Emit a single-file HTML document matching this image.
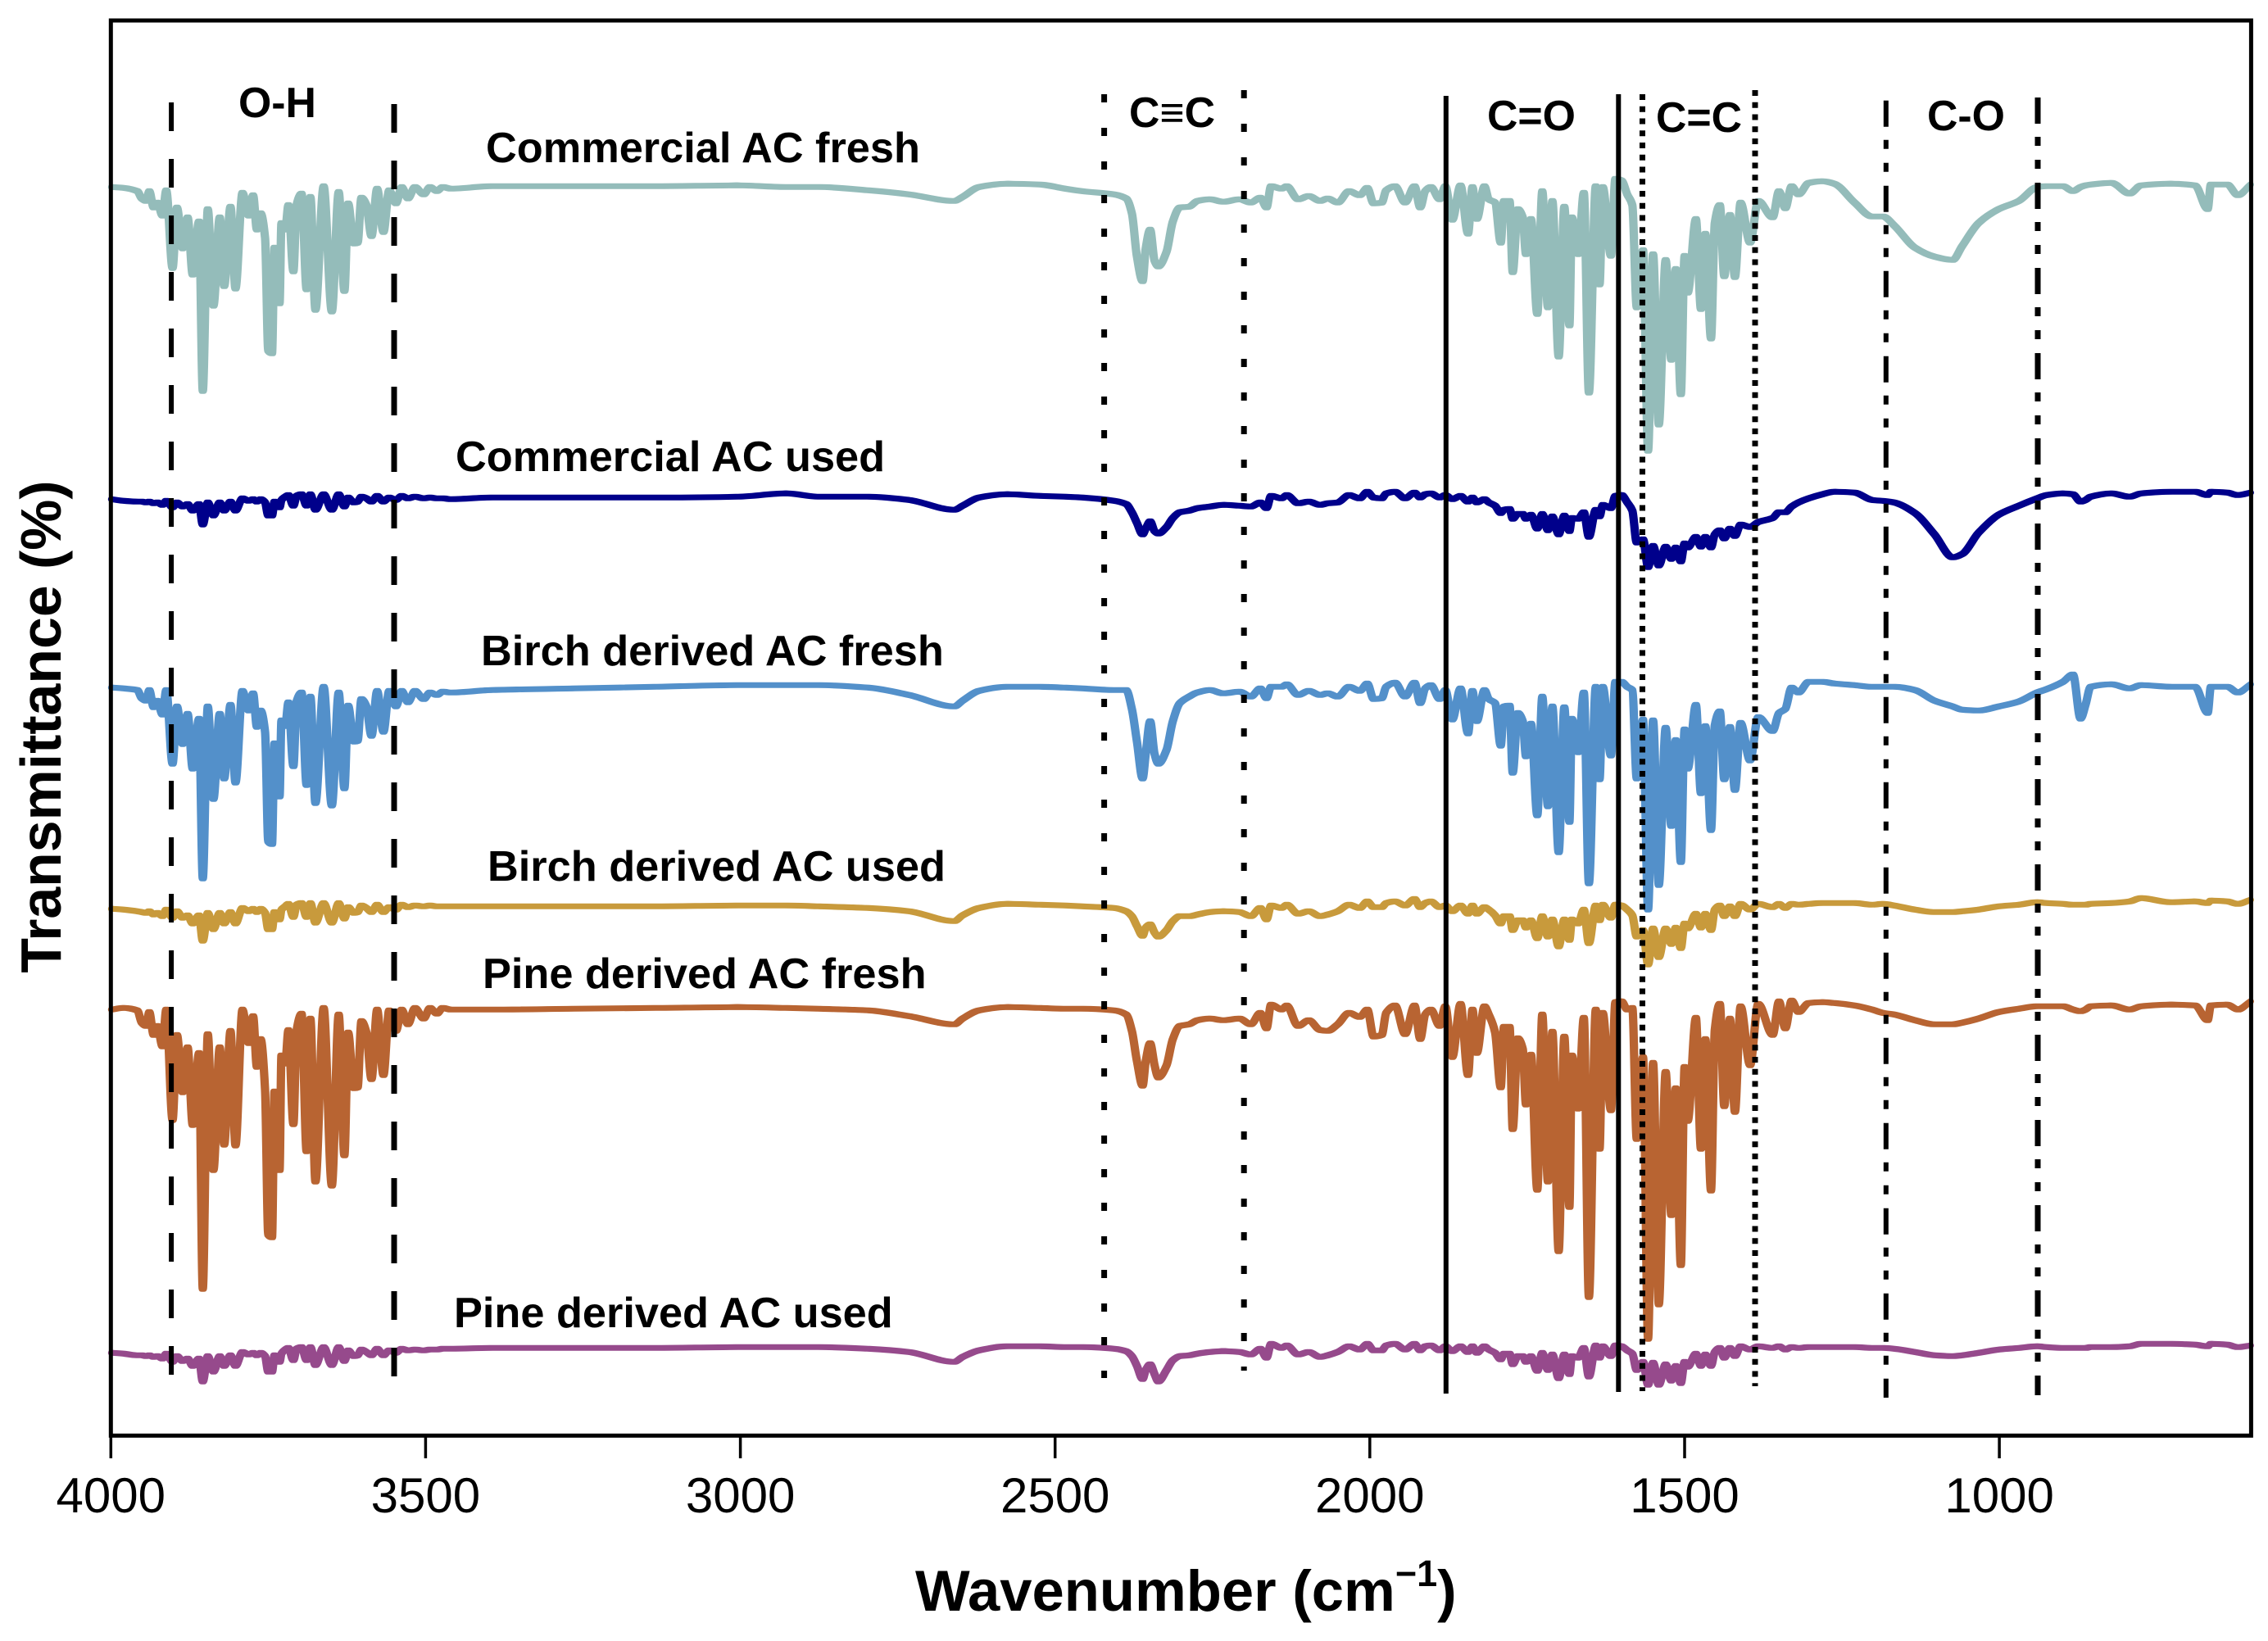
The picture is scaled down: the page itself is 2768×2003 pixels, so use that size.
<!DOCTYPE html>
<html lang="en">
<head>
<meta charset="utf-8">
<title>FTIR spectra of fresh and used activated carbons</title>
<style>
html,body{margin:0;padding:0;background:#fff;}
svg{display:block;font-family:"Liberation Sans",Arial,sans-serif;}
</style>
</head>
<body>
<svg id="chart" xmlns="http://www.w3.org/2000/svg" width="2768" height="2003" viewBox="0 0 2768 2003">
  <rect x="0" y="0" width="2768" height="2003" fill="#ffffff"/>
  <g id="series-layer"></g>
  <g id="refline-layer"></g>
  <rect x="135.3" y="25" width="2612.1" height="1727.3" fill="none" stroke="#000" stroke-width="5"/>
  <g id="tick-layer"></g>
  <g font-weight="700" font-size="52.3" fill="#000">
    <text x="593" y="198">Commercial AC fresh</text>
    <text x="556" y="575">Commercial AC used</text>
    <text x="587" y="812">Birch derived AC fresh</text>
    <text x="595" y="1075">Birch derived AC used</text>
    <text x="589" y="1206">Pine derived AC fresh</text>
    <text x="554" y="1620">Pine derived AC used</text>
  </g>
  <g font-weight="700" font-size="51.8" fill="#000">
    <text x="291" y="143">O-H</text>
    <text x="1378" y="155">C≡C</text>
    <text x="1815" y="159">C=O</text>
    <text x="2021" y="161">C=C</text>
    <text x="2352" y="159">C-O</text>
  </g>
  <text x="1117" y="1966" font-size="70.6" font-weight="700" fill="#000">Wavenumber (cm<tspan dy="-30" font-size="45">−1</tspan><tspan dy="30">)</tspan></text>
  <text transform="translate(74 887) rotate(-90)" text-anchor="middle" font-size="69.8" font-weight="700" fill="#000">Transmittance (%)</text>
</svg>
<script>
const wavenumbers = [
4000,3980,3958,3951,3944,3939,3932,3926,3918,3912,3902,3895,3886,3878,3870,3860,3854,3846,3837,3827,3820,3810,3802,3791,3781,3774,3768,3762,3755,3750,3744,3740,3732,3729,3723,3718,3710,3705,3697,3689,3683,3675,3662,3649,3638,3629,3623,3614,3608,3602,3594,3586,3577,3567,3558,3547,3538,3528,3517,3503,3493,3482,3473,3460,
3395,3265,3135,3005,2927,2875,2797,2732,2660,2647,2621,2576,2524,2484,2457,2406,2387,2378,2370,2361,2356,2349,2342,2336,2323,2313,2302,2287,2274,2254,2233,2207,2189,2174,2164,2157,2140,2132,2114,2097,2079,2067,2051,2033,2016,2004,1994,1981,1974,1960,1944,1929,1920,1912,1903,1889,
1880,1869,1856,1844,1837,1830,1818,1811,1801,1792,1787,1778,1773,1765,1757,1752,1744,1734,1726,1717,1710,1700,1691,1683,1679,1669,1660,1652,1641,1635,1630,1617,1610,1600,1591,1583,1576,1566,1558,1550,1541,1530,1521,1514,1506,1500,1495,1482,1474,1467,1458,1452,1444,1437,1428,1420,1411,1396,1383,1360,1350,1340,1330,1319,1303,1281,1262,1230,1202,1185,1167,1134,1103,1074,1059,1033,1001,969,940,925,899,883,871,863,855,822,793,775,727,689,669,664,638,621,600];

const commercialFresh = [
152.4,152.3,151.9,151.0,150.7,151.9,149.9,150.5,148.9,152.0,142.5,149.9,144.9,148.7,141.7,148.2,127.5,149.7,137.9,148.7,140.3,150.0,140.0,151.7,148.9,151.4,147.2,149.2,146.2,132.4,132.1,145.0,138.2,148.0,147.2,150.2,142.1,150.2,151.6,139.9,151.2,137.4,152.5,137.2,151.8,139.7,150.4,145.5,145.6,151.1,150.2,146.4,152.2,146.9,152.0,150.4,152.4,151.0,152.4,151.5,152.4,151.9,152.4,152.2,
152.5,152.5,152.5,152.6,152.4,152.4,152.0,151.5,150.7,151.2,152.4,152.8,152.7,152.2,151.9,151.5,151.0,149.2,143.9,140.9,144.9,147.2,143.4,142.7,144.5,148.2,149.9,150.0,150.7,150.9,150.6,150.9,150.5,151.1,149.9,152.5,152.2,152.5,150.9,151.3,150.7,151.0,150.5,151.9,151.4,152.3,150.4,150.5,152.0,152.5,150.5,152.5,149.9,151.9,152.4,150.9,
152.5,148.4,152.6,146.7,152.4,148.5,152.5,150.9,150.5,145.6,
150.7,150.7,142.0,149.7,148.7,144.2,148.5,136.9,151.9,137.7,
150.7,131.7,150.0,135.5,148.7,144.2,151.7,127.3,152.5,140.5,
152.4,144.0,153.4,153.2,151.5,150.2,137.7,144.7,120.2,144.2,
123.4,143.5,131.3,142.4,127.1,144.0,139.5,148.5,137.5,146.7,
133.9,148.0,150.2,141.5,149.0,141.4,150.5,145.6,150.7,148.7,
151.9,149.8,152.5,151.5,152.9,153.1,152.8,150.5,148.8,148.8,
147.7,145.0,143.9,143.5,145.2,148.0,149.7,150.7,152.4,152.5,
152.5,151.9,152.4,152.6,152.7,152.9,151.6,152.6,152.8,152.6,
149.7,152.7,152.7,151.4,152.7];

const commercialUsed = [
114.3,114.1,114.0,114.0,113.9,114.0,113.8,113.9,113.6,114.1,113.3,113.9,113.4,113.7,112.9,113.7,111.2,113.9,112.3,113.9,112.9,114.0,112.9,114.4,114.1,114.3,114.0,114.3,113.9,112.3,112.3,114.0,113.3,114.2,114.6,114.8,113.5,114.7,114.9,113.5,114.9,113.0,114.9,113.0,114.9,113.4,114.5,113.9,114.0,114.6,114.4,114.0,114.7,114.0,114.5,114.2,114.7,114.4,114.6,114.4,114.5,114.4,114.4,114.3,
114.5,114.5,114.5,114.6,115.0,114.6,114.6,114.2,113.0,113.5,114.5,114.9,114.7,114.6,114.5,114.1,113.7,112.7,111.4,110.0,110.7,111.6,110.4,110.1,110.9,112.0,112.7,112.9,113.2,113.4,113.6,113.5,113.4,113.9,113.2,114.7,114.4,114.8,113.8,114.0,113.6,113.8,113.9,114.8,114.4,115.2,114.5,114.4,115.0,115.2,114.4,115.1,114.5,114.9,115.0,114.5,
114.8,114.3,114.7,114.0,114.5,113.9,114.3,113.9,113.5,112.6,
113.0,113.1,111.9,112.5,112.5,111.9,112.4,110.7,112.5,110.5,
112.2,110.0,112.3,110.4,112.0,111.9,112.7,109.7,113.0,112.2,
113.6,113.2,114.7,114.8,113.9,112.9,109.0,109.4,106.0,108.6,
106.2,108.5,107.0,108.4,106.7,108.9,108.4,109.7,108.5,109.7,
108.4,110.0,110.5,109.5,110.7,109.8,111.2,110.9,111.5,112.0,
112.7,112.7,113.4,113.9,114.4,114.9,115.2,115.1,114.2,114.1,
113.9,112.6,110.0,107.2,107.6,110.2,112.4,113.5,114.4,114.8,
115.0,114.9,114.0,114.2,114.6,115.0,114.6,115.0,115.2,115.2,
114.8,115.2,115.1,114.8,115.1];

const birchFresh = [
91.3,91.2,91.0,90.0,89.7,91.0,88.9,89.7,88.0,91.0,82.0,89.0,84.4,88.1,81.4,87.5,68.0,89.0,77.7,88.1,80.2,89.2,79.7,90.9,88.5,90.6,86.5,88.5,85.9,72.5,72.2,84.5,78.0,87.3,86.6,89.5,81.7,89.6,90.7,79.4,90.2,77.2,91.4,76.9,90.7,79.0,89.1,84.7,84.8,89.9,89.0,85.4,90.9,85.9,90.9,89.0,90.9,89.5,90.9,89.9,90.7,90.4,90.8,90.7,
91.0,91.2,91.4,91.6,91.6,91.6,91.3,90.4,89.0,89.7,90.9,91.4,91.4,91.3,91.2,91.0,91.0,88.7,84.7,80.2,83.2,87.2,83.2,82.0,83.7,87.2,89.4,90.2,90.7,91.0,90.6,90.8,90.2,91.2,90.0,91.4,91.4,91.7,90.4,90.9,90.4,90.6,90.2,91.4,90.9,91.8,89.9,90.0,91.4,91.9,90.2,91.9,89.4,91.2,91.6,89.9,
91.0,87.4,91.2,85.7,90.9,87.2,91.0,89.9,89.4,84.2,
89.0,89.1,80.9,88.2,87.2,82.9,86.9,75.7,90.2,76.8,
89.0,71.2,88.9,74.9,87.5,83.4,90.7,67.4,91.4,80.1,
91.4,83.0,92.0,92.0,91.4,91.0,80.2,87.4,64.2,87.3,
67.2,86.4,74.4,84.9,70.0,86.2,81.4,89.2,78.4,86.6,
73.9,86.7,88.4,80.1,86.5,78.8,87.0,82.4,87.7,86.0,
88.2,88.7,91.3,90.7,92.0,92.0,91.8,91.6,91.4,91.4,
91.4,91.0,89.7,89.0,88.6,88.5,89.0,89.6,90.7,91.1,
92.0,92.9,87.5,89.2,91.4,91.7,91.2,91.6,91.4,91.4,
88.2,91.4,91.4,90.7,91.7];

const birchUsed = [
64.3,64.2,64.0,63.9,63.8,64.0,63.6,63.8,63.4,64.2,63.2,64.0,63.2,63.5,62.5,63.5,60.4,63.8,61.8,63.8,62.5,63.9,62.5,64.4,64.0,64.3,63.9,64.3,63.8,61.8,61.8,63.9,63.0,64.2,64.6,64.9,63.3,64.8,65.0,63.3,65.0,62.6,65.0,62.6,65.0,63.1,64.5,63.8,63.9,64.7,64.4,63.9,64.8,63.9,64.5,64.2,64.8,64.5,64.7,64.6,64.7,64.6,64.6,64.6,
64.6,64.6,64.6,64.7,64.7,64.6,64.4,64.0,62.8,63.5,64.4,64.9,64.8,64.7,64.6,64.4,64.0,63.4,62.2,61.0,62.0,62.4,61.4,60.9,61.7,62.8,63.4,63.4,63.6,63.9,64.0,63.9,63.4,64.4,63.0,64.7,64.4,64.8,63.7,64.0,63.4,63.6,64.0,64.8,64.4,65.2,64.5,64.5,65.0,65.2,64.7,65.5,64.5,65.0,65.2,64.5,
64.7,64.0,64.7,63.7,64.7,63.7,64.5,64.2,63.5,62.5,
63.4,63.4,61.7,62.9,62.9,62.0,62.9,60.7,63.4,60.9,
63.0,59.7,63.0,60.5,63.0,62.5,64.2,60.1,64.7,62.9,
64.8,63.2,64.8,64.7,64.2,63.5,60.9,61.7,57.5,61.9,
58.4,61.9,60.0,62.0,59.5,62.5,61.9,63.7,62.0,63.7,
61.7,64.2,64.7,63.4,64.6,63.4,64.9,64.2,64.9,64.5,
64.9,64.4,64.9,64.8,64.9,65.0,65.0,65.0,64.8,64.9,
64.7,64.2,63.9,63.9,64.0,64.2,64.6,64.8,65.1,65.0,
64.9,64.8,64.8,64.8,64.9,65.0,65.2,65.6,65.1,65.2,
65.0,65.3,65.2,64.9,65.4];

const pineFresh = [
52.0,52.2,51.9,50.4,50.0,51.7,48.9,50.0,47.5,52.0,38.5,48.9,41.9,47.4,37.9,46.7,17.9,49.0,32.4,47.4,35.5,49.4,35.4,52.0,47.9,51.2,45.0,48.4,42.2,24.5,24.2,42.0,32.4,46.4,45.4,49.5,38.0,49.4,51.5,34.7,50.9,31.0,52.2,30.5,51.4,34.2,49.2,42.4,42.5,50.6,49.2,43.5,52.0,44.0,51.9,49.4,52.0,50.2,52.2,50.9,52.2,51.5,52.2,52.0,
52.0,52.1,52.2,52.3,52.2,52.1,51.9,51.2,50.2,50.9,51.9,52.3,52.2,52.1,52.1,51.9,51.4,49.4,45.7,42.7,45.7,47.9,45.2,43.7,45.2,48.4,50.0,50.2,50.7,50.9,50.7,50.9,50.2,51.6,49.7,52.6,52.0,52.5,50.0,50.7,49.5,49.4,50.2,51.6,51.1,52.0,48.7,48.9,51.6,52.5,49.0,52.5,48.4,51.4,52.0,50.0,
52.4,46.2,52.7,44.0,52.0,46.7,52.4,51.4,49.2,42.5,
49.9,49.9,37.4,48.5,47.2,40.4,46.5,30.0,51.4,31.0,
49.3,22.5,48.7,27.9,46.4,39.9,51.0,16.9,52.0,35.0,
51.6,39.7,52.9,53.0,52.0,52.2,36.2,46.2,11.8,45.5,
16.0,44.4,26.9,42.4,20.8,45.0,38.4,51.0,35.0,48.4,
29.9,49.5,52.7,40.2,50.9,39.5,52.4,45.2,52.7,48.9,
53.0,49.7,53.1,51.7,52.8,52.9,52.8,52.5,52.0,51.6,
51.4,50.7,50.2,50.2,50.4,50.9,51.7,52.1,52.4,52.4,
52.4,52.0,51.8,52.0,52.4,52.5,52.0,52.4,52.6,52.5,
50.7,52.5,52.6,52.0,53.0];

const pineUsed = [
10.1,10.0,9.8,9.8,9.7,9.8,9.6,9.7,9.4,10.0,9.0,9.7,9.1,9.4,8.5,9.4,6.6,9.7,7.8,9.7,8.5,9.8,8.5,10.2,9.9,10.1,9.8,10.1,9.7,7.8,7.8,9.8,9.0,10.0,10.5,10.7,9.2,10.6,10.8,9.2,10.8,8.6,10.8,8.6,10.8,9.1,10.4,9.7,9.8,10.5,10.2,9.8,10.6,9.8,10.4,10.1,10.6,10.4,10.5,10.4,10.5,10.5,10.6,10.6,
10.7,10.7,10.7,10.8,10.8,10.8,10.6,10.2,9.0,9.6,10.4,10.9,10.9,10.8,10.8,10.6,10.3,9.7,8.5,6.9,8.0,8.7,7.5,6.6,8.0,9.2,9.7,9.8,10.0,10.2,10.3,10.2,9.9,10.6,9.5,11.2,10.7,11.0,9.9,10.2,9.6,9.8,10.2,10.9,10.5,11.2,10.4,10.4,11.0,11.2,10.5,11.2,10.4,10.9,11.0,10.4,
10.9,10.3,10.9,10.2,10.9,10.1,10.9,10.5,10.1,9.3,
10.0,10.0,8.7,9.7,9.7,9.0,9.7,7.9,10.1,8.0,
9.9,7.0,9.9,7.5,9.7,9.5,10.7,7.2,11.0,9.5,
10.9,9.7,11.0,10.9,10.4,10.0,8.0,9.0,6.2,8.9,
6.2,8.7,6.7,8.5,6.4,9.0,8.4,10.0,8.5,9.9,
8.5,10.2,10.7,9.5,10.7,9.7,10.9,10.5,10.9,10.7,
10.9,10.5,10.8,10.7,10.8,10.8,10.8,10.8,10.7,10.7,
10.6,10.2,9.8,9.7,9.8,10.1,10.5,10.7,10.9,10.8,
10.7,10.7,10.7,10.7,10.8,10.8,10.9,11.2,11.2,11.1,
10.9,11.2,11.1,10.8,11.0];

const xTickLabels = [4000, 3500, 3000, 2500, 2000, 1500, 1000];
const regionBoundaryWavenumbers = [3904, 3550, 2422, 2200, 1879, 1605, 1567, 1388, 1180, 939];

const svgNS = 'http://www.w3.org/2000/svg';
function xScale(w) { return 135.3 + (4000 - w) * (2747.4 - 135.3) / (4000 - 600); }
function yScale(t) { return 1752.3 - t * 10; }

/* Monotone cubic path: peaks and valleys get horizontal tangents, like the smooth instrument trace. */
function smoothPath(xs, ys) {
  const n = xs.length;
  const slopes = [];
  for (let i = 0; i < n - 1; i++) slopes.push((ys[i + 1] - ys[i]) / (xs[i + 1] - xs[i]));
  const tangents = [slopes[0]];
  for (let i = 1; i < n - 1; i++) {
    const a = slopes[i - 1], b = slopes[i];
    tangents.push(a * b <= 0 ? 0 : 2 * a * b / (a + b));
  }
  tangents.push(slopes[n - 2]);
  let d = 'M' + xs[0].toFixed(1) + ' ' + ys[0].toFixed(1);
  for (let i = 0; i < n - 1; i++) {
    const h = (xs[i + 1] - xs[i]) / 3;
    d += 'C' + (xs[i] + h).toFixed(1) + ' ' + (ys[i] + tangents[i] * h).toFixed(1) + ' ' +
      (xs[i + 1] - h).toFixed(1) + ' ' + (ys[i + 1] - tangents[i + 1] * h).toFixed(1) + ' ' +
      xs[i + 1].toFixed(1) + ' ' + ys[i + 1].toFixed(1);
  }
  return d;
}

const seriesOrder = [
  { name: 'commercial-ac-fresh', values: commercialFresh, color: '#94bcba' },
  { name: 'commercial-ac-used', values: commercialUsed, color: '#00008b' },
  { name: 'birch-ac-fresh', values: birchFresh, color: '#5390ca' },
  { name: 'birch-ac-used', values: birchUsed, color: '#c89a3c' },
  { name: 'pine-ac-fresh', values: pineFresh, color: '#b86432' },
  { name: 'pine-ac-used', values: pineUsed, color: '#964a8c' }
];

/* The source trace is heavier on steep flanks than on flat runs, so each path carries two
   small horizontal passes that widen only the steep segments. */
const flankPasses = [-1.6, 0, 1.6];

const seriesLayer = document.getElementById('series-layer');
seriesOrder.forEach(function (s) {
  const ys = s.values.map(yScale);
  const d = flankPasses.map(function (dx) {
    const xs = wavenumbers.map(function (w) {
      const px = xScale(w) + dx;
      return Math.min(2747.4, Math.max(135.3, px));
    });
    return smoothPath(xs, ys);
  }).join('');
  const line = document.createElementNS(svgNS, 'path');
  line.setAttribute('d', d);
  line.setAttribute('fill', 'none');
  line.setAttribute('stroke', s.color);
  line.setAttribute('stroke-width', '7');
  line.setAttribute('stroke-linejoin', 'round');
  line.setAttribute('stroke-linecap', 'round');
  
  
  seriesLayer.appendChild(line);
});

const boundaryStyles = [
  { top: 125, bottom: 1709, width: 6, dash: '35 34' },
  { top: 127, bottom: 1711, width: 7, dash: '35 34' },
  { top: 115, bottom: 1682, width: 7, dash: '10 31' },
  { top: 110, bottom: 1673, width: 7, dash: '10 31' },
  { top: 117, bottom: 1701, width: 6, dash: '' },
  { top: 115, bottom: 1699, width: 6, dash: '' },
  { top: 115, bottom: 1698, width: 7, dash: '7 7.75' },
  { top: 110, bottom: 1692, width: 7, dash: '7 7.75' },
  { top: 122.7, bottom: 1706, width: 6, dash: '32 16 11 17 11 17' },
  { top: 119, bottom: 1703, width: 7, dash: '32 16 11 17 11 17' }
];

const refLayer = document.getElementById('refline-layer');
regionBoundaryWavenumbers.forEach(function (w, i) {
  const st = boundaryStyles[i];
  const rule = document.createElementNS(svgNS, 'line');
  rule.setAttribute('x1', xScale(w).toFixed(1));
  rule.setAttribute('x2', xScale(w).toFixed(1));
  rule.setAttribute('y1', st.top);
  rule.setAttribute('y2', st.bottom);
  rule.setAttribute('stroke', '#000');
  rule.setAttribute('stroke-width', st.width);
  if (st.dash) rule.setAttribute('stroke-dasharray', st.dash);
  
  
  refLayer.appendChild(rule);
});

const tickLayer = document.getElementById('tick-layer');
xTickLabels.forEach(function (w) {
  const tick = document.createElementNS(svgNS, 'line');
  tick.setAttribute('x1', xScale(w).toFixed(1));
  tick.setAttribute('x2', xScale(w).toFixed(1));
  tick.setAttribute('y1', '1752');
  tick.setAttribute('y2', '1780');
  tick.setAttribute('stroke', '#000');
  tick.setAttribute('stroke-width', '3.5');
  
  
  tickLayer.appendChild(tick);
  const label = document.createElementNS(svgNS, 'text');
  label.setAttribute('x', xScale(w).toFixed(1));
  label.setAttribute('y', '1846');
  label.setAttribute('text-anchor', 'middle');
  label.setAttribute('font-size', '60');
  label.setAttribute('fill', '#000');
  
  
  label.textContent = String(w);
  tickLayer.appendChild(label);
});
</script>
</body>
</html>
